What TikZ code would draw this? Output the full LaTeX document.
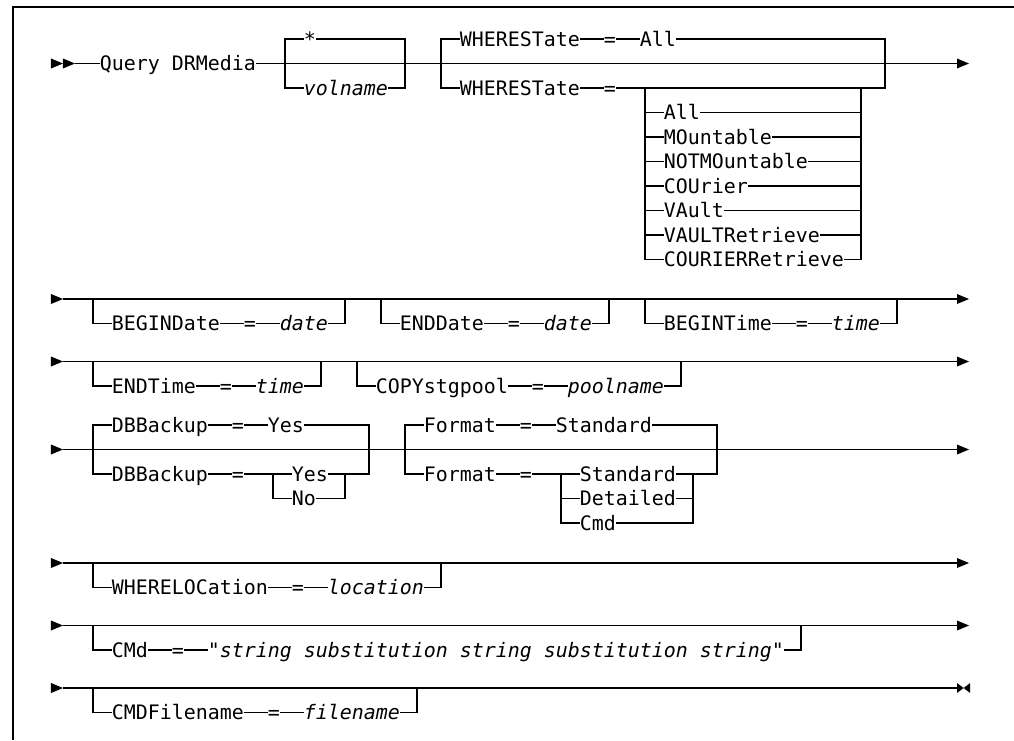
\documentclass[tikz,border=0pt]{standalone}
\usepackage{fontspec}
\setmonofont{DejaVu Sans Mono}
\newcommand\railfont{\ttfamily\fontsize{19.93pt}{24pt}\selectfont}
% filled arrowhead pointing right, base at column #1, on rail #2
\newcommand\rtri[2]{\fill (#1,{#2-5}) -- ({#1+1},#2) -- (#1,{#2+5}) -- cycle;}
% optional branch hanging below a rail, from column #1 to column #2
\newcommand\optbr[3]{\draw (#1,#3) |- (#2,{#3+\dy}) -- (#2,#3);}
\begin{document}
\begin{tikzpicture}[x=12pt,y=-1pt,line width=1.1pt,
  lbl/.style={anchor=base west,inner xsep=0.4pt,inner ysep=0pt,fill=white,
    font=\railfont,text height=15pt,text depth=4pt},
  var/.style={lbl,font=\railfont\itshape}]
\def\dy{24.5}\def\bl{7.3}
\useasboundingbox (-4.25,0) rectangle (80.25,740);
\draw[line width=2pt] (80.25,7.3) -| (-3.19,740);

% ---- Query DRMedia, volume and state
\def\Y{63.5}
\draw (2,\Y) -- (75.5,\Y);
\rtri{0}{\Y}\rtri{1}{\Y}\rtri{75.5}{\Y}
\draw (19.5,{\Y-\dy}) rectangle (29.5,{\Y+\dy});
\draw (32.5,{\Y-\dy}) rectangle (69.5,{\Y+\dy});
\draw (49.5,{\Y+\dy}) -- (49.5,{\Y+8*\dy}) (67.5,{\Y+\dy}) -- (67.5,{\Y+8*\dy});
\foreach \k in {2,...,8} \draw (49.5,{\Y+\k*\dy}) -- (67.5,{\Y+\k*\dy});
\node[lbl] (cmd) at (4,{\Y+\bl}) {Query DRMedia};
\node[lbl] (star) at (21,{\Y-\dy+\bl}) {*};
\node[var] (vol) at (21,{\Y+\dy+\bl}) {volname};
\node[lbl] (wsA) at (34,{\Y-\dy+\bl}) {WHERESTate};
\node[lbl] (eqA) at (46,{\Y-\dy+\bl}) {=};
\node[lbl] (allA) at (49,{\Y-\dy+\bl}) {All};
\node[lbl] (wsB) at (34,{\Y+\dy+\bl}) {WHERESTate};
\node[lbl] (eqB) at (46,{\Y+\dy+\bl}) {=};
\foreach \t [count=\k from 2] in {All,MOuntable,NOTMOuntable,COUrier,VAult,VAULTRetrieve,COURIERRetrieve}
  \node[lbl] (st\k) at (51,{\Y+\k*\dy+\bl}) {\t};

% ---- begin/end dates and begin time
\def\Y{299}
\draw (1,\Y) -- (75.5,\Y);
\rtri{0}{\Y}\rtri{75.5}{\Y}
\optbr{3.5}{24.5}{\Y}\optbr{27.5}{46.5}{\Y}\optbr{49.5}{70.5}{\Y}
\node[lbl] (bd) at (5,{\Y+\dy+\bl}) {BEGINDate};
\node[lbl] (bdeq) at (16,{\Y+\dy+\bl}) {=};
\node[var] (bdv) at (19,{\Y+\dy+\bl}) {date};
\node[lbl] (ed) at (29,{\Y+\dy+\bl}) {ENDDate};
\node[lbl] (edeq) at (38,{\Y+\dy+\bl}) {=};
\node[var] (edv) at (41,{\Y+\dy+\bl}) {date};
\node[lbl] (bt) at (51,{\Y+\dy+\bl}) {BEGINTime};
\node[lbl] (bteq) at (62,{\Y+\dy+\bl}) {=};
\node[var] (btv) at (65,{\Y+\dy+\bl}) {time};

% ---- end time and copy storage pool
\def\Y{361.5}
\draw (1,\Y) -- (75.5,\Y);
\rtri{0}{\Y}\rtri{75.5}{\Y}
\optbr{3.5}{22.5}{\Y}\optbr{25.5}{52.5}{\Y}
\node[lbl] (et) at (5,{\Y+\dy+\bl}) {ENDTime};
\node[lbl] (eteq) at (14,{\Y+\dy+\bl}) {=};
\node[var] (etv) at (17,{\Y+\dy+\bl}) {time};
\node[lbl] (cp) at (27,{\Y+\dy+\bl}) {COPYstgpool};
\node[lbl] (cpeq) at (40,{\Y+\dy+\bl}) {=};
\node[var] (cpv) at (43,{\Y+\dy+\bl}) {poolname};

% ---- database backup and format
\def\Y{449.5}
\draw (1,\Y) -- (75.5,\Y);
\rtri{0}{\Y}\rtri{75.5}{\Y}
\draw (3.5,{\Y-\dy}) rectangle (26.5,{\Y+\dy});
\draw (18.5,{\Y+\dy}) |- (24.5,{\Y+2*\dy}) -- (24.5,{\Y+\dy});
\draw (29.5,{\Y-\dy}) rectangle (55.5,{\Y+\dy});
\draw (42.5,{\Y+\dy}) |- (53.5,{\Y+3*\dy}) -- (53.5,{\Y+\dy});
\draw (42.5,{\Y+2*\dy}) -- (53.5,{\Y+2*\dy});
\node[lbl] (dbA) at (5,{\Y-\dy+\bl}) {DBBackup};
\node[lbl] (dbAeq) at (15,{\Y-\dy+\bl}) {=};
\node[lbl] (dbAy) at (18,{\Y-\dy+\bl}) {Yes};
\node[lbl] (dbB) at (5,{\Y+\dy+\bl}) {DBBackup};
\node[lbl] (dbBeq) at (15,{\Y+\dy+\bl}) {=};
\node[lbl] (dbBy) at (20,{\Y+\dy+\bl}) {Yes};
\node[lbl] (dbBn) at (20,{\Y+2*\dy+\bl}) {No};
\node[lbl] (fmA) at (31,{\Y-\dy+\bl}) {Format};
\node[lbl] (fmAeq) at (39,{\Y-\dy+\bl}) {=};
\node[lbl] (fmAs) at (42,{\Y-\dy+\bl}) {Standard};
\node[lbl] (fmB) at (31,{\Y+\dy+\bl}) {Format};
\node[lbl] (fmBeq) at (39,{\Y+\dy+\bl}) {=};
\node[lbl] (fmBs) at (44,{\Y+\dy+\bl}) {Standard};
\node[lbl] (fmBd) at (44,{\Y+2*\dy+\bl}) {Detailed};
\node[lbl] (fmBc) at (44,{\Y+3*\dy+\bl}) {Cmd};

% ---- location
\def\Y{563}
\draw (1,\Y) -- (75.5,\Y);
\rtri{0}{\Y}\rtri{75.5}{\Y}
\optbr{3.5}{32.5}{\Y}
\node[lbl] (wl) at (5,{\Y+\dy+\bl}) {WHERELOCation};
\node[lbl] (wleq) at (20,{\Y+\dy+\bl}) {=};
\node[var] (wlv) at (23,{\Y+\dy+\bl}) {location};

% ---- command string
\def\Y{625.5}
\draw (1,\Y) -- (75.5,\Y);
\rtri{0}{\Y}\rtri{75.5}{\Y}
\optbr{3.5}{62.5}{\Y}
\node[lbl] (cm) at (5,{\Y+\dy+\bl}) {CMd};
\node[lbl] (cmeq) at (10,{\Y+\dy+\bl}) {=};
\node[var] (cmv) at (13,{\Y+\dy+\bl}) {"string substitution string substitution string"};

% ---- command file name, end of statement
\def\Y{688}
\draw (1,\Y) -- (75.5,\Y);
\rtri{0}{\Y}
\fill (75.5,{\Y-5}) -- (76.05,\Y) -- (75.5,{\Y+5}) -- cycle;
\fill (76.6,{\Y-5}) -- (76.05,\Y) -- (76.6,{\Y+5}) -- cycle;
\optbr{3.5}{30.5}{\Y}
\node[lbl] (cf) at (5,{\Y+\dy+\bl}) {CMDFilename};
\node[lbl] (cfeq) at (18,{\Y+\dy+\bl}) {=};
\node[var] (cfv) at (21,{\Y+\dy+\bl}) {filename};
\end{tikzpicture}
\end{document}
